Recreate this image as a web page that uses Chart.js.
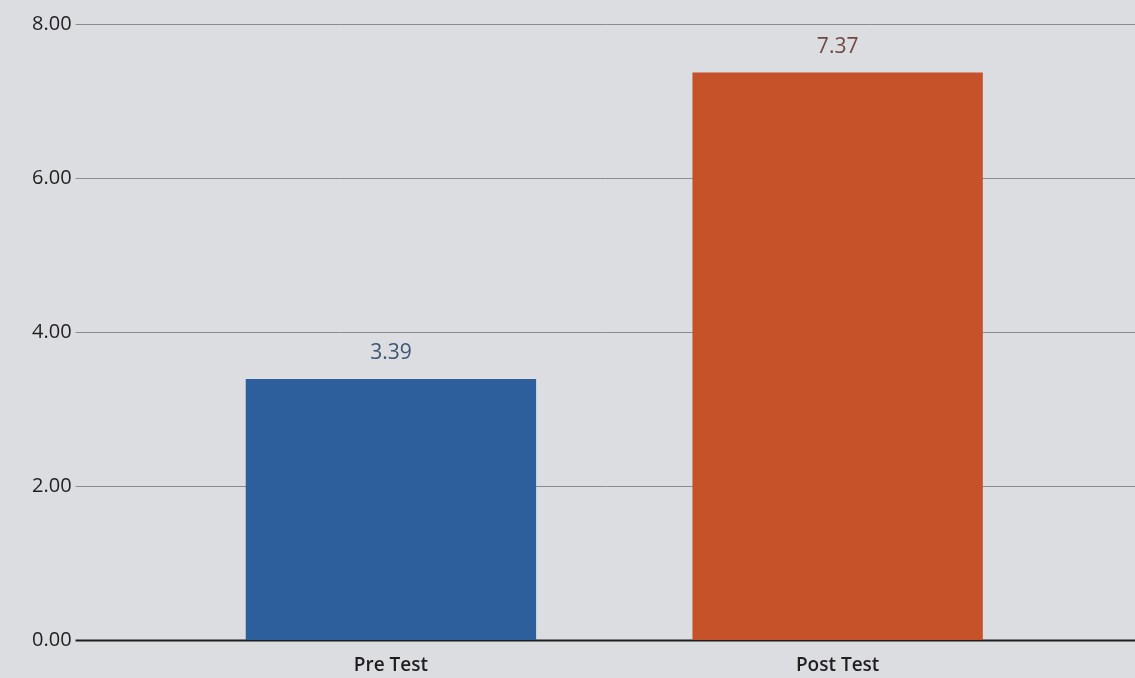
<!DOCTYPE html>
<html>
<head>
<meta charset="utf-8">
<script src="https://cdn.jsdelivr.net/npm/chart.js@4"></script>
<style>
  html, body { margin: 0; padding: 0; background: #dcdde0; }
  #wrap { width: 1135px; height: 678px; position: relative; }
</style>
</head>
<body>
<div id="wrap"><canvas id="chart"></canvas></div>
<script>
// --- data ---
const categories = ['Pre Test', 'Post Test'];
const scores = [3.39, 7.37];
const barColors = ['#2d5f9d', '#c6522a'];
const labelColors = ['#3d5675', '#6e4a40'];
const yTicks = [0, 2, 4, 6, 8];

// draws the horizontal rules across the full width, like the original
const fullGrid = {
  id: 'fullGrid',
  beforeDatasetsDraw(chart) {
    const ctx = chart.ctx;
    const y = chart.scales.y;
    const left = chart.chartArea.left - 92;
    ctx.save();
    yTicks.forEach(v => {
      const py = Math.round(y.getPixelForValue(v)) + 0.5;
      ctx.beginPath();
      if (v === 0) {
        ctx.strokeStyle = '#1e1e1e';
        ctx.lineWidth = 2;
      } else {
        ctx.strokeStyle = '#8a8b8e';
        ctx.lineWidth = 1;
      }
      ctx.moveTo(left, py);
      ctx.lineTo(chart.width, py);
      ctx.stroke();
    });
    ctx.restore();
  }
};

// value labels above bars
const valueLabels = {
  id: 'valueLabels',
  afterDatasetsDraw(chart) {
    const ctx = chart.ctx;
    const meta = chart.getDatasetMeta(0);
    ctx.save();
    ctx.font = '21px "Open Sans", sans-serif';
    ctx.textAlign = 'center';
    ctx.textBaseline = 'bottom';
    meta.data.forEach((bar, i) => {
      ctx.fillStyle = labelColors[i];
      ctx.fillText(scores[i].toFixed(2), bar.x, bar.y - 15);
    });
    ctx.restore();
  }
};

new Chart(document.getElementById('chart'), {
  type: 'bar',
  data: {
    labels: categories,
    datasets: [{
      data: scores,
      backgroundColor: barColors,
      borderWidth: 0,
      categoryPercentage: 1,
      barPercentage: 0.65
    }]
  },
  options: {
    responsive: true,
    maintainAspectRatio: false,
    animation: false,
    layout: { padding: { top: 24, right: 74, bottom: 0, left: 24 } },
    plugins: {
      legend: { display: false },
      tooltip: { enabled: false }
    },
    scales: {
      y: {
        min: 0, max: 8,
        ticks: {
          stepSize: 2,
          padding: 8,
          color: '#1f1f1f',
          font: { family: '"Open Sans", sans-serif', size: 20 },
          callback: v => v.toFixed(2)
        },
        grid: { display: false, drawTicks: true, tickLength: 88 },
        border: { display: false }
      },
      x: {
        ticks: {
          padding: 6,
          color: '#1f1f1f',
          font: { family: '"Open Sans", sans-serif', size: 19, weight: '600' }
        },
        grid: { display: false },
        border: { display: false },
        afterFit(scale) { scale.height = 38; }
      }
    }
  },
  plugins: [fullGrid, valueLabels]
});
</script>
</body>
</html>
